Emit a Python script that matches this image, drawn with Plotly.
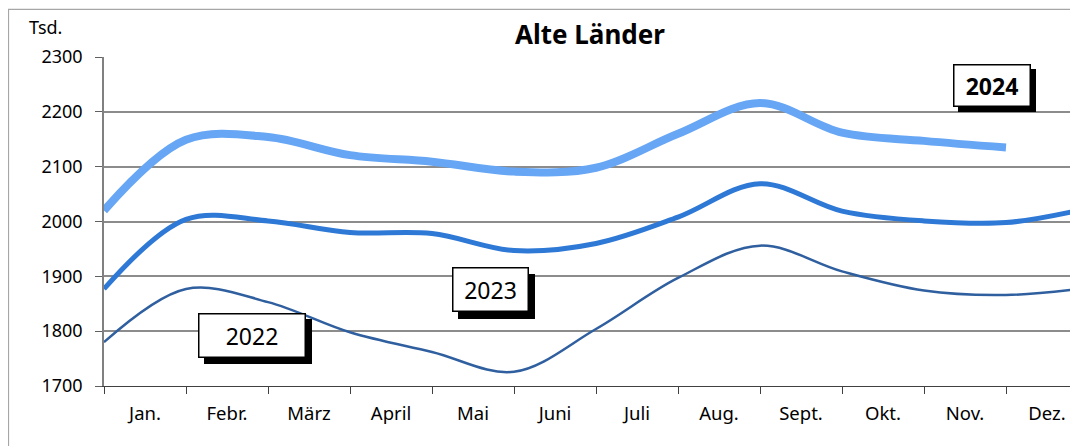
import plotly.graph_objects as go

# ---- data ----
months = ["Jan.", "Febr.", "März", "April", "Mai", "Juni", "Juli",
          "Aug.", "Sept.", "Okt.", "Nov.", "Dez."]
y_ticks = [1700, 1800, 1900, 2000, 2100, 2200, 2300]

v2022 = [1780, 1877, 1853, 1798, 1762, 1726, 1804, 1897, 1956, 1909, 1874, 1866, 1879]
v2023 = [1877, 2004, 2001, 1980, 1978, 1947, 1960, 2008, 2069, 2019, 2001, 1998, 2024]
v2024 = [2020, 2149, 2154, 2121, 2109, 2091, 2098, 2160, 2216, 2162, 2147, 2135]

# page has an 8px body margin -> figure occupies page x 8..1078, y 8..446
OFF = 8
W, H = 1078 - OFF, 446 - OFF
P_left, P_right, P_top, P_bottom = 104, 1078, 56.7, 385.7   # page px of plot area
left, right, top, bottom = P_left - OFF, P_right - OFF, P_top - OFF, P_bottom - OFF
cat_px = 82.0
xmax = (right - left) / cat_px
ymin, ymax = 1700, 2300
py_per = (bottom - top) / (ymax - ymin)

def ax_x(page_px):
    return (page_px - OFF - left) / cat_px

def ax_y(page_py):
    return ymin + (bottom - (page_py - OFF)) / py_per

def pap_x(page_px):
    return (page_px - OFF - left) / (right - left)

def pap_y(page_py):
    return (bottom - (page_py - OFF)) / (bottom - top)

FONT = "Noto Sans"

fig = go.Figure()
series = [
    ("2022", v2022, "#2F5F9F", 2.5),
    ("2023", v2023, "#2E78D6", 5),
    ("2024", v2024, "#66A6F4", 8),
]
for name, vals, col, w in series:
    fig.add_trace(go.Scatter(
        x=list(range(len(vals))), y=vals, mode="lines", name=name,
        line=dict(color=col, width=w, shape="spline", smoothing=1.0),
        showlegend=False, hoverinfo="skip"))

# label boxes with drop shadow
def box(text, cx, cy, w, h, bold=False, dx=6, dy=6):
    fig.add_annotation(x=ax_x(cx + dx), y=ax_y(cy + dy), xref="x", yref="y",
                       text="", showarrow=False, width=w, height=h,
                       bgcolor="black", borderpad=0, borderwidth=1.5,
                       bordercolor="black")
    fig.add_annotation(x=ax_x(cx), y=ax_y(cy), xref="x", yref="y",
                       text=f"<b>{text}</b>" if bold else text,
                       showarrow=False, width=w, height=h,
                       bgcolor="white", borderpad=0, borderwidth=1.5,
                       bordercolor="black",
                       font=dict(family=FONT, size=23, color="black"))

box("2022", 252, 335, 105, 42)
box("2023", 490, 289, 74, 42, dx=6, dy=7)
box("2024", 992, 85, 75, 40, bold=True, dx=5, dy=5)

# title and unit
fig.add_annotation(x=pap_x(590), y=pap_y(34), xref="paper", yref="paper",
                   text="<b>Alte Länder</b>", showarrow=False,
                   font=dict(family=FONT, size=26, color="black"),
                   xanchor="center", yanchor="middle")
fig.add_annotation(x=pap_x(27), y=pap_y(27), xref="paper", yref="paper",
                   text="Tsd.", showarrow=False,
                   font=dict(family=FONT, size=18, color="black"),
                   xanchor="left", yanchor="middle")

# outer chart border (left / top visible)
fig.add_shape(type="rect", xref="paper", yref="paper",
              x0=pap_x(8.5), x1=1.2, y0=-0.5, y1=pap_y(9),
              line=dict(color="#A6A6A6", width=1.2), layer="below")

fig.update_layout(
    width=W, height=H,
    margin=dict(l=left, r=W - right, t=top, b=H - bottom, autoexpand=False),
    paper_bgcolor="white", plot_bgcolor="white",
    font=dict(family=FONT, size=18, color="black"),
    xaxis=dict(range=[0, xmax], tickmode="array",
               tickvals=[i + 0.5 for i in range(len(months))], ticktext=months,
               ticks="", showgrid=False, zeroline=False,
               showline=True, linecolor="#404040", linewidth=1.2,
               minor=dict(ticks="outside", ticklen=7, tickcolor="#404040",
                          tick0=0, dtick=1, tickwidth=1.2, showgrid=False),
               tickfont=dict(family=FONT, size=18.5), ticklabelstandoff=11),
    xaxis2=dict(range=[0, xmax], overlaying="x", anchor="y", tickmode="array",
                tickvals=list(range(13)), ticks="inside", ticklen=7,
                tickcolor="#404040", tickwidth=1.2, showticklabels=False,
                showgrid=False, zeroline=False, showline=False),
    yaxis=dict(range=[ymin, ymax], tickmode="array", tickvals=y_ticks,
               ticks="outside", ticklen=7, tickcolor="#606060", tickwidth=1.2,
               showgrid=True, gridcolor="#8C8C8C", gridwidth=1.5, zeroline=False,
               showline=True, linecolor="#808080", linewidth=1.5,
               tickfont=dict(family=FONT, size=18), ticklabelstandoff=9),
    yaxis2=dict(range=[ymin, ymax], overlaying="y", anchor="x", side="left",
                tickmode="array", tickvals=y_ticks, ticks="inside", ticklen=6,
                tickcolor="#606060", tickwidth=1.2, showticklabels=False,
                showgrid=False, zeroline=False, showline=False),
)

fig.write_html("out.html")
